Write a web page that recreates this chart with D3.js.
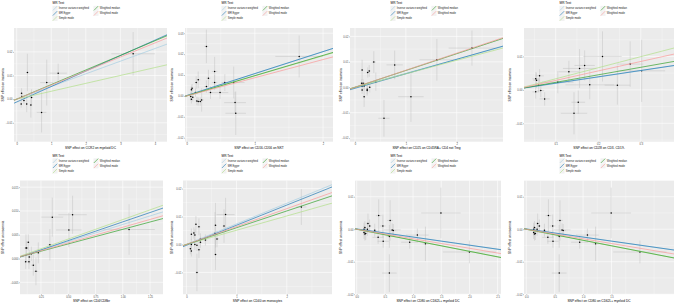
<!DOCTYPE html>
<html>
<head>
<meta charset="utf-8">
<script src="https://cdn.jsdelivr.net/npm/d3@7"></script>
<style>
  body { margin: 0; background: #fff; }
  svg { display: block; }
  text { font-family: "Liberation Sans", Arial, sans-serif; }
</style>
</head>
<body>
<div id="chart"></div>
<script>
var w = 676
var h = 306

var methods = ["Inverse variance weighted", "MR Egger", "Simple mode", "Weighted median", "Weighted mode"];
//            IVW        Egger      Simple     W median   W mode
var colors = ["#a6cee3", "#1f78b4", "#b2df8a", "#33a02c", "#fb9a99"];

var outcome = "SNP effect on insomnia";
var exposures = [
  "SNP effect on CCR2 on myeloid DC",
  "SNP effect on CD16-CD56 on NKT",
  "SNP effect on CD25 on CD45RA+ CD4 not Treg",
  "SNP effect on CD28 on CD3- CD19-",
  "SNP effect on CD4/CD8br",
  "SNP effect on CD40 on monocytes",
  "SNP effect on CD80 on CD62L+ myeloid DC",
  "SNP effect on CD80 on CD62L+ myeloid DC"
];

// each SNP: [beta exposure, beta outcome, se exposure, se outcome]
var ccr2 = [
  [3.37, 0.0192, 0.63, 0.0092], [0.31, 0.0113, 0.03, 0.0079], [1.20, 0.0110, 0.25, 0.0040],
  [0.87, 0.0070, 0.19, 0.0097], [0.43, 0.0007, 0.05, 0.0035], [0.14, 0.0025, 0.03, 0.0021],
  [0.15, 0.0011, 0.03, 0.0015], [0.21, -0.0006, 0.03, 0.0015], [0.29, -0.0020, 0.03, 0.0035],
  [0.13, -0.0021, 0.02, 0.0015], [0.41, -0.0025, 0.03, 0.0053], [0.72, -0.0056, 0.14, 0.0085]
];
var cd16 = [
  [1.65, 0.0189, 0.35, 0.0100], [0.29, 0.0237, 0.03, 0.0080], [0.41, 0.0117, 0.04, 0.0070],
  [0.32, 0.0085, 0.03, 0.0040], [0.17, 0.0077, 0.03, 0.0040], [0.14, 0.0064, 0.02, 0.0030],
  [0.08, 0.0037, 0.02, 0.0020], [0.07, 0.0029, 0.02, 0.0020], [0.13, 0.0016, 0.02, 0.0020],
  [0.29, 0.0045, 0.03, 0.0030], [0.41, 0.0064, 0.04, 0.0036], [0.35, 0.0016, 0.03, 0.0030],
  [0.49, 0.0016, 0.12, 0.0030], [0.56, 0.0064, 0.05, 0.0040], [0.69, 0.0064, 0.16, 0.0076],
  [0.06, -0.0003, 0.02, 0.0020], [0.07, -0.0016, 0.02, 0.0020], [0.09, -0.0006, 0.02, 0.0020],
  [0.17, -0.0027, 0.02, 0.0020], [0.20, -0.0027, 0.02, 0.0020], [0.22, -0.0019, 0.03, 0.0056],
  [0.71, -0.0032, 0.16, 0.0052], [0.72, -0.0083, 0.15, 0.0104], [0.15, -0.0024, 0.02, 0.0020]
];
var cd25 = [
  [2.30, 0.0154, 0.46, 0.0069], [1.61, 0.0108, 0.34, 0.0082], [0.78, 0.0088, 0.16, 0.0056],
  [0.37, 0.0099, 0.04, 0.0043], [0.41, 0.0022, 0.04, 0.0036], [0.14, 0.0068, 0.02, 0.0040],
  [0.28, 0.0064, 0.03, 0.0023], [0.25, 0.0058, 0.03, 0.0020], [0.13, 0.0016, 0.02, 0.0015],
  [0.16, 0.0016, 0.02, 0.0015], [0.14, 0.0005, 0.02, 0.0015], [0.18, 0.0005, 0.02, 0.0015],
  [0.14, -0.0011, 0.02, 0.0015], [0.24, -0.0008, 0.02, 0.0020], [0.24, -0.0013, 0.02, 0.0020],
  [0.29, 0.0000, 0.03, 0.0020], [0.18, -0.0037, 0.02, 0.0040], [1.10, -0.0037, 0.25, 0.0099],
  [0.57, -0.0122, 0.11, 0.0072]
];
var cd28 = [
  [0.210, 0.0100, 0.045, 0.0075], [0.275, 0.0077, 0.031, 0.0068], [0.302, 0.0057, 0.055, 0.0093],
  [0.168, 0.0073, 0.024, 0.0045], [0.156, 0.0064, 0.039, 0.0058], [0.131, 0.0054, 0.024, 0.0033],
  [0.180, 0.0015, 0.057, 0.0043], [0.245, 0.0014, 0.030, 0.0058], [0.105, 0.0023, 0.037, 0.0033],
  [0.153, -0.0037, 0.016, 0.0035], [0.143, -0.0070, 0.031, 0.0063], [0.062, 0.0042, 0.010, 0.0020],
  [0.053, 0.0033, 0.008, 0.0020], [0.055, 0.0029, 0.008, 0.0023], [0.060, 0.0014, 0.008, 0.0020],
  [0.065, -0.0002, 0.008, 0.0020], [0.053, -0.0006, 0.008, 0.0020], [0.074, -0.0027, 0.012, 0.0020]
];
var cd4cd8 = [
  [1.058, 0.0061, 0.236, 0.0053], [0.540, 0.0092, 0.130, 0.0040], [0.354, 0.0087, 0.100, 0.0041],
  [0.506, 0.0060, 0.117, 0.0036], [0.332, 0.0029, 0.020, 0.0033], [0.134, 0.0034, 0.015, 0.0017],
  [0.113, 0.0022, 0.015, 0.0029], [0.119, 0.0022, 0.015, 0.0015], [0.162, 0.0010, 0.020, 0.0015],
  [0.226, 0.0012, 0.020, 0.0022], [0.143, 0.0003, 0.015, 0.0015], [0.110, -0.0007, 0.015, 0.0015],
  [0.140, -0.0007, 0.015, 0.0015], [0.180, -0.0014, 0.020, 0.0022], [0.204, -0.0027, 0.020, 0.0029]
];
var cd40 = [
  [2.29, 0.0134, 0.10, 0.0064], [0.78, 0.0107, 0.18, 0.0060], [0.75, 0.0066, 0.03, 0.0060],
  [0.58, 0.0069, 0.03, 0.0080], [0.57, 0.0040, 0.03, 0.0076], [0.61, 0.0020, 0.04, 0.0030],
  [0.58, -0.0036, 0.03, 0.0055], [0.19, 0.0072, 0.02, 0.0030], [0.25, 0.0063, 0.03, 0.0030],
  [0.10, 0.0037, 0.02, 0.0020], [0.15, 0.0041, 0.02, 0.0020], [0.17, 0.0034, 0.02, 0.0020],
  [0.28, 0.0020, 0.03, 0.0020], [0.28, 0.0008, 0.03, 0.0020], [0.38, 0.0016, 0.04, 0.0020],
  [0.10, 0.0000, 0.02, 0.0020], [0.17, 0.0000, 0.02, 0.0020], [0.21, -0.0003, 0.02, 0.0020],
  [0.08, -0.0015, 0.02, 0.0020], [0.10, -0.0023, 0.02, 0.0020], [0.25, -0.0019, 0.03, 0.0030],
  [0.21, -0.0100, 0.03, 0.0067]
];
var cd80 = [
  [1.494, 0.0050, 0.35, 0.0078], [2.000, -0.0070, 0.47, 0.0035], [1.220, -0.0045, 0.05, 0.0053],
  [1.076, -0.0018, 0.20, 0.0020], [0.940, -0.0040, 0.15, 0.0020], [0.390, 0.0042, 0.05, 0.0050],
  [0.593, 0.0027, 0.05, 0.0062], [0.465, 0.0010, 0.05, 0.0035], [0.630, -0.0002, 0.15, 0.0020],
  [0.650, -0.0004, 0.05, 0.0020], [0.580, -0.0022, 0.05, 0.0035], [0.470, -0.0037, 0.10, 0.0020],
  [0.380, -0.0025, 0.10, 0.0020], [0.580, -0.0135, 0.13, 0.0058], [0.200, 0.0018, 0.03, 0.0030],
  [0.230, 0.0010, 0.03, 0.0020], [0.320, -0.0003, 0.03, 0.0020], [0.145, 0.0005, 0.02, 0.0020],
  [0.130, 0.0000, 0.02, 0.0020], [0.160, -0.0013, 0.02, 0.0020], [0.130, -0.0010, 0.02, 0.0020],
  [0.145, -0.0015, 0.02, 0.0020], [0.190, 0.0000, 0.02, 0.0020]
];

// MR estimates, same order as methods: [intercept, slope]
var ccr2Fit   = [[0, 0.00535], [-0.0012, 0.00654], [0, 0.00334], [0, 0.00617], [0, 0.00594]];
var cd16Fit   = [[0, 0.0106], [0.0002, 0.0105], [0, 0.0096], [0, 0.0097], [0, 0.0087]];
var cd25Fit   = [[0, 0.0055], [-0.0004, 0.0057], [0, 0.0053], [0, 0.0066], [0, 0.0067]];
var cd28Fit   = [[0, 0.0192], [0.0001, 0.0190], [0, 0.0331], [0, 0.0225], [0, 0.0283]];
var cd4cd8Fit = [[0, 0.00716], [-0.00016, 0.00786], [0, 0.00818], [0, 0.00614], [0, 0.00657]];
var cd40Fit   = [[0, 0.00738], [-0.0003, 0.0072], [0, 0.0051], [0, 0.0060], [0, 0.00641]];
var cd80Fit   = [[0, -0.00246], [0.0001, -0.0025], [0, -0.0034], [0, -0.0034], [0, -0.00293]];

// tick values
var xTicksInt  = [0, 1, 2, 3, 4];
var xTicksCd28 = [0.1, 0.2, 0.3];
var xTicksCd4  = [0.25, 0.5, 0.75, 1.0, 1.25];
var xTicksCd80 = [0, 0.5, 1.0, 1.5, 2.0, 2.5];
var yTicksCcr2 = [-0.01, 0, 0.01, 0.02];
var yTicksCd16 = [-0.02, -0.01, 0, 0.01, 0.02, 0.03];
var yTicksCd25 = [-0.02, -0.01, 0, 0.01, 0.02];
var yTicksCd28 = [-0.01, 0, 0.01];
var yTicksCd4  = [-0.005, 0, 0.005, 0.01, 0.015];
var yTicksCd40 = [-0.01, 0, 0.01, 0.02];
var yTicksCd80 = [-0.02, -0.01, 0, 0.01];

// layout: cell = left of the plot, x0/x1 = panel area, row 0/1
var panels = [
  { pts: ccr2,   fit: ccr2Fit,   xt: xTicksInt,            yt: yTicksCcr2, xf: "d",   yf: ".2f", xd: [-0.078, 4.35], yd: [-0.018, 0.0301],  cell: 0,   x0: 14,  x1: 167, row: 0 },
  { pts: cd16,   fit: cd16Fit,   xt: [0, 1, 2],            yt: yTicksCd16, xf: "d",   yf: ".2f", xd: [-0.024, 2.146], yd: [-0.0219, 0.0325], cell: 169, x0: 185, x1: 333, row: 0 },
  { pts: cd25,   fit: cd25Fit,   xt: [0, 1, 2],            yt: yTicksCd25, xf: "d",   yf: ".2f", xd: [-0.098, 2.91], yd: [-0.0214, 0.0233], cell: 338, x0: 350, x1: 503, row: 0 },
  { pts: cd28,   fit: cd28Fit,   xt: xTicksCd28,           yt: yTicksCd28, xf: ".1f", yf: ".2f", xd: [0.0255, 0.378], yd: [-0.0155, 0.0185], cell: 507, x0: 524, x1: 674, row: 0 },
  { pts: cd4cd8, fit: cd4cd8Fit, xt: xTicksCd4,            yt: yTicksCd4,  xf: ".2f", yf: ".3f", xd: [0.058, 1.369], yd: [-0.0075, 0.0164], cell: 0,   x0: 20,  x1: 163, row: 1 },
  { pts: cd40,   fit: cd40Fit,   xt: [0, 1, 2],            yt: yTicksCd40, xf: "d",   yf: ".2f", xd: [-0.067, 2.9],  yd: [-0.0178, 0.0229], cell: 169, x0: 183, x1: 332, row: 1 },
  { pts: cd80,   fit: cd80Fit,   xt: xTicksCd80,           yt: yTicksCd80, xf: ".1f", yf: ".2f", xd: [-0.03, 2.56],  yd: [-0.020, 0.0150],  cell: 338, x0: 355, x1: 501, row: 1 },
  { pts: cd80,   fit: cd80Fit,   xt: xTicksCd80.slice(0, 4), yt: yTicksCd80, xf: ".1f", yf: ".2f", xd: [-0.04, 2.6], yd: [-0.020, 0.0150],  cell: 507, x0: 524, x1: 674, row: 1 }
];

var rowTop = [0, 152.5];

var svg = d3.select("#chart").append("svg")
    .attr("width", w)
    .attr("height", h);

function minors(ticks, dom) {
  var step = ticks[1] - ticks[0];
  var out = [];
  for (var v = ticks[0] - step * 1.5; v <= dom[1]; v += step) {
    if (v >= dom[0]) out.push(v);
  }
  return out;
}

panels.forEach(function(p, k) {
  var top = rowTop[p.row];
  var y0 = top + 28, y1 = top + 141.7;
  var x = d3.scaleLinear().domain(p.xd).range([p.x0, p.x1]);
  var y = d3.scaleLinear().domain(p.yd).range([y1, y0]);

  var g = svg.append("g");

  // panel background and grid
  g.append("rect")
    .attr("x", p.x0).attr("y", y0)
    .attr("width", p.x1 - p.x0).attr("height", y1 - y0)
    .attr("fill", "#ebebeb");

  g.selectAll(".minx").data(minors(p.xt, p.xd)).enter()
    .append("line")
      .attr("x1", function(d) { return x(d); }).attr("x2", function(d) { return x(d); })
      .attr("y1", y0).attr("y2", y1)
      .attr("stroke", "#fff").attr("stroke-width", 0.3);
  g.selectAll(".miny").data(minors(p.yt, p.yd)).enter()
    .append("line")
      .attr("y1", function(d) { return y(d); }).attr("y2", function(d) { return y(d); })
      .attr("x1", p.x0).attr("x2", p.x1)
      .attr("stroke", "#fff").attr("stroke-width", 0.3);
  g.selectAll(".majx").data(p.xt).enter()
    .append("line")
      .attr("x1", function(d) { return x(d); }).attr("x2", function(d) { return x(d); })
      .attr("y1", y0).attr("y2", y1)
      .attr("stroke", "#fff").attr("stroke-width", 0.6);
  g.selectAll(".majy").data(p.yt).enter()
    .append("line")
      .attr("y1", function(d) { return y(d); }).attr("y2", function(d) { return y(d); })
      .attr("x1", p.x0).attr("x2", p.x1)
      .attr("stroke", "#fff").attr("stroke-width", 0.6);

  // axes
  var xAxis = d3.axisBottom(x).tickValues(p.xt).tickSize(1).tickPadding(0.6).tickFormat(d3.format(p.xf));
  var yAxis = d3.axisLeft(y).tickValues(p.yt).tickSize(1).tickPadding(0.6).tickFormat(d3.format(p.yf));
  var gx = g.append("g").attr("transform", "translate(0," + y1 + ")").call(xAxis);
  var gy = g.append("g").attr("transform", "translate(" + p.x0 + ",0)").call(yAxis);
  [gx, gy].forEach(function(a) {
    a.select(".domain").remove();
    a.selectAll("line").attr("stroke", "#333").attr("stroke-width", 0.3);
    a.selectAll("text").attr("fill", "#4d4d4d").style("font-size", "2.6px");
  });

  g.append("text")
    .attr("x", (p.x0 + p.x1) / 2).attr("y", y1 + 7.6)
    .attr("text-anchor", "middle")
    .style("font-size", "3.2px")
    .text(exposures[k]);
  g.append("text")
    .attr("transform", "translate(" + (p.cell + 4.2) + "," + ((y0 + y1) / 2) + ") rotate(-90)")
    .attr("text-anchor", "middle")
    .style("font-size", "3.2px")
    .text(outcome);

  // clip for the fitted lines
  var clipId = "clip" + k;
  g.append("clipPath").attr("id", clipId)
    .append("rect")
      .attr("x", p.x0).attr("y", y0)
      .attr("width", p.x1 - p.x0).attr("height", y1 - y0);

  var body = g.append("g").attr("clip-path", "url(#" + clipId + ")");

  body.selectAll(".ebv").data(p.pts).enter()
    .append("line")
      .attr("x1", function(d) { return x(d[0]); }).attr("x2", function(d) { return x(d[0]); })
      .attr("y1", function(d) { return y(d[1] - d[3]); }).attr("y2", function(d) { return y(d[1] + d[3]); })
      .attr("stroke", "#bebebe").attr("stroke-width", 0.45);
  body.selectAll(".ebh").data(p.pts).enter()
    .append("line")
      .attr("y1", function(d) { return y(d[1]); }).attr("y2", function(d) { return y(d[1]); })
      .attr("x1", function(d) { return x(d[0] - d[2]); }).attr("x2", function(d) { return x(d[0] + d[2]); })
      .attr("stroke", "#bebebe").attr("stroke-width", 0.45);

  body.selectAll(".dot").data(p.pts).enter()
    .append("circle")
      .attr("cx", function(d) { return x(d[0]); })
      .attr("cy", function(d) { return y(d[1]); })
      .attr("r", 0.75)
      .attr("fill", "#000");

  body.selectAll(".fit").data(p.fit).enter()
    .append("line")
      .attr("x1", x(p.xd[0])).attr("x2", x(p.xd[1]))
      .attr("y1", function(d) { return y(d[0] + d[1] * p.xd[0]); })
      .attr("y2", function(d) { return y(d[0] + d[1] * p.xd[1]); })
      .attr("stroke", function(d, i) { return colors[i]; })
      .attr("stroke-width", 0.7);

  // legend on top, two columns
  var lx = p.cell + 52.5;
  var leg = g.append("g").attr("transform", "translate(" + lx + "," + top + ")");
  leg.append("text")
    .attr("x", 0).attr("y", 4.4)
    .style("font-size", "3.2px")
    .text("MR Test");
  var items = leg.selectAll(".key").data(methods).enter()
    .append("g")
      .attr("transform", function(d, i) {
        return "translate(" + (i < 3 ? 0 : 41) + "," + (5.8 + (i % 3) * 5.1) + ")";
      });
  items.append("rect")
    .attr("width", 5).attr("height", 5)
    .attr("fill", "#f2f2f2");
  items.append("line")
    .attr("x1", 0.3).attr("y1", 4.7).attr("x2", 4.7).attr("y2", 0.3)
    .attr("stroke", function(d, i) { return colors[i]; })
    .attr("stroke-width", 0.6);
  items.append("text")
    .attr("x", 6.3).attr("y", 3.4)
    .style("font-size", "2.6px")
    .attr("fill", "#1a1a1a")
    .text(function(d) { return d; });
});
</script>
</body>
</html>
